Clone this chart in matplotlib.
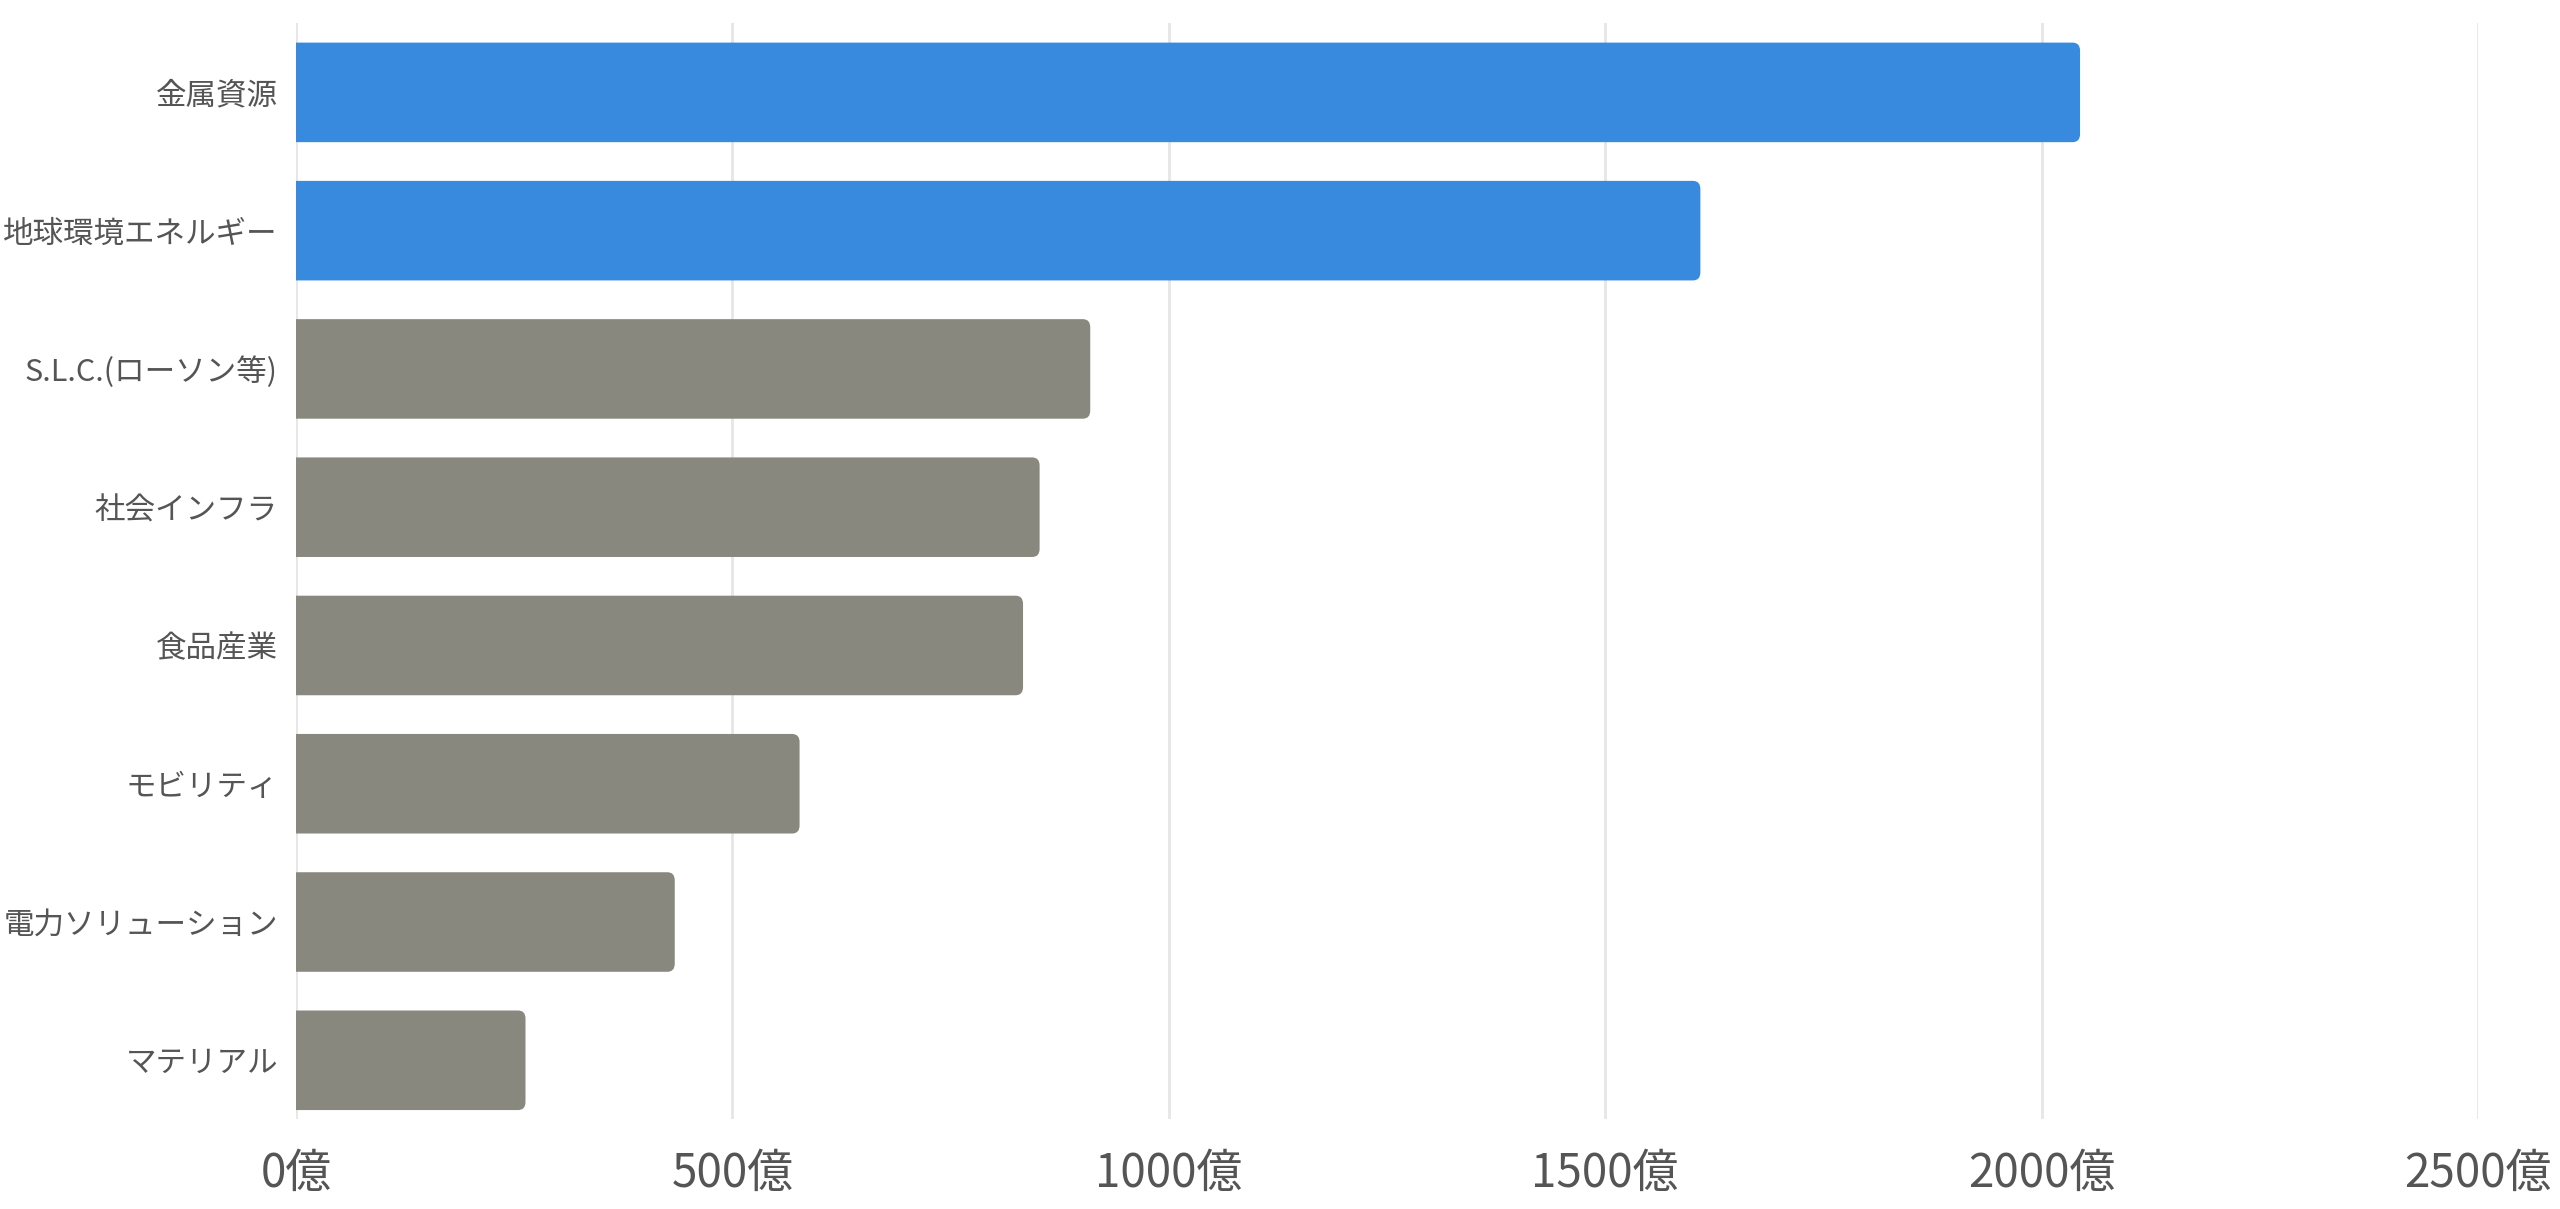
import matplotlib
matplotlib.use("Agg")
import matplotlib.pyplot as plt
from matplotlib.patches import FancyBboxPatch

plt.rcParams['font.family'] = ['Noto Sans CJK JP', 'DejaVu Sans']

categories = ["金属資源", "地球環境エネルギー", "S.L.C.(ローソン等)", "社会インフラ",
              "食品産業", "モビリティ", "電力ソリューション", "マテリアル"]
values = [2044, 1609, 910, 852, 833, 577, 434, 263]
highlight = [True, True, False, False, False, False, False, False]
xticks = [0, 500, 1000, 1500, 2000, 2500]
xticklabels = ["0億", "500億", "1000億", "1500億", "2000億", "2500億"]

blue = "#388ADE"
gray = "#89887F"
text_c = "#555555"
grid_c = "#e6e6e6"

fig = plt.figure(figsize=(25.6, 12.09), dpi=100)
ax = fig.add_axes([0.1156, 0.0744, 0.8524, 0.9066])

ypos = list(range(len(categories)))
colors = [blue if h else gray for h in highlight]
bars = ax.barh(ypos, values, height=0.72, color=colors, zorder=2)

ax.set_xlim(0, 2500)
ax.set_ylim(len(categories) - 0.575, -0.502)

# rounded right corners; the box starts left of the axis so the clip keeps the left side square
r = 8.5
aspect = 0.0585 / r
for b, c in zip(bars, colors):
    x0, y0 = b.get_x(), b.get_y()
    w, h = b.get_width(), b.get_height()
    ax.add_patch(FancyBboxPatch((x0 - 50, y0), w + 50, h,
                                boxstyle=f"round,pad=0,rounding_size={r}",
                                mutation_aspect=aspect, fc=c, ec="none", zorder=3))
    b.set_visible(False)

ax.set_xticks(xticks)
ax.set_xticklabels(xticklabels)
ax.set_yticks(ypos)
ax.set_yticklabels(categories)
ax.tick_params(axis='x', length=0, pad=22, labelsize=33, labelcolor=text_c)
ax.tick_params(axis='y', length=0, pad=13, labelsize=22, labelcolor=text_c)
ax.xaxis.grid(True, color=grid_c, linewidth=2, zorder=0)
for s in ax.spines.values():
    s.set_visible(False)

fig.savefig("out.png", dpi=100, facecolor="white")
